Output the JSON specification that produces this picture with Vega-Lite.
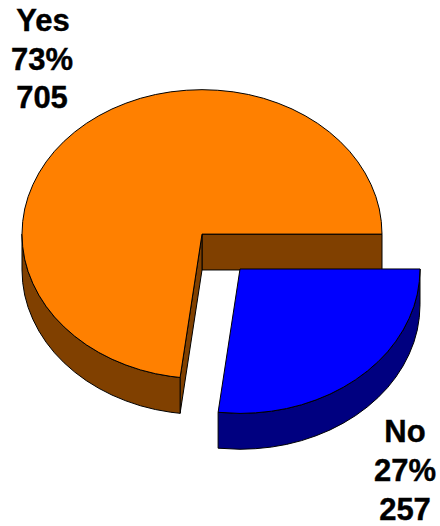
{"$schema":"https://vega.github.io/schema/vega-lite/v6.json","width":440,"height":526,"padding":0,"autosize":{"type":"fit","contains":"padding"},"background":"white","view":{"stroke":null},
"datasets":{
"yesInner":[{"x":202,"y":234,"y2":270},{"x":382,"y":234,"y2":270}],
"yesCut":[{"x":180.1,"y":377.9,"y2":413.9},{"x":202,"y":234,"y2":270}],
"yesSide":[{"x":22,"y":234,"y2":270},{"x":22.7,"y":246.6,"y2":282.6},{"x":24.7,"y":259.2,"y2":295.2},{"x":28.1,"y":271.5,"y2":307.5},{"x":32.9,"y":283.6,"y2":319.6},{"x":38.9,"y":295.3,"y2":331.3},{"x":46.1,"y":306.5,"y2":342.5},{"x":54.5,"y":317.2,"y2":353.2},{"x":64.1,"y":327.2,"y2":363.2},{"x":74.7,"y":336.5,"y2":372.5},{"x":86.3,"y":345.1,"y2":381.1},{"x":98.8,"y":352.8,"y2":388.8},{"x":112,"y":359.6,"y2":395.6},{"x":125.9,"y":365.4,"y2":401.4},{"x":140.4,"y":370.3,"y2":406.3},{"x":155.4,"y":374.1,"y2":410.1},{"x":170.7,"y":376.8,"y2":412.8},{"x":180.1,"y":377.9,"y2":413.9}],
"yesTop":[{"i":0,"x":180.1,"y":377.9},{"i":1,"x":170.7,"y":376.8},{"i":2,"x":155.4,"y":374.1},{"i":3,"x":140.4,"y":370.3},{"i":4,"x":125.9,"y":365.4},{"i":5,"x":112,"y":359.6},{"i":6,"x":98.8,"y":352.8},{"i":7,"x":86.3,"y":345.1},{"i":8,"x":74.7,"y":336.5},{"i":9,"x":64.1,"y":327.2},{"i":10,"x":54.5,"y":317.2},{"i":11,"x":46.1,"y":306.5},{"i":12,"x":38.9,"y":295.3},{"i":13,"x":32.9,"y":283.6},{"i":14,"x":28.1,"y":271.5},{"i":15,"x":24.7,"y":259.2},{"i":16,"x":22.7,"y":246.6},{"i":17,"x":22,"y":234},{"i":18,"x":22.7,"y":221.4},{"i":19,"x":24.7,"y":208.8},{"i":20,"x":28.1,"y":196.5},{"i":21,"x":32.9,"y":184.4},{"i":22,"x":38.9,"y":172.7},{"i":23,"x":46.1,"y":161.5},{"i":24,"x":54.5,"y":150.8},{"i":25,"x":64.1,"y":140.8},{"i":26,"x":74.7,"y":131.5},{"i":27,"x":86.3,"y":122.9},{"i":28,"x":98.8,"y":115.2},{"i":29,"x":112,"y":108.4},{"i":30,"x":125.9,"y":102.6},{"i":31,"x":140.4,"y":97.7},{"i":32,"x":155.4,"y":93.9},{"i":33,"x":170.7,"y":91.2},{"i":34,"x":186.3,"y":89.6},{"i":35,"x":202,"y":89},{"i":36,"x":217.7,"y":89.6},{"i":37,"x":233.3,"y":91.2},{"i":38,"x":248.6,"y":93.9},{"i":39,"x":263.6,"y":97.7},{"i":40,"x":278.1,"y":102.6},{"i":41,"x":292,"y":108.4},{"i":42,"x":305.2,"y":115.2},{"i":43,"x":317.7,"y":122.9},{"i":44,"x":329.3,"y":131.5},{"i":45,"x":339.9,"y":140.8},{"i":46,"x":349.5,"y":150.8},{"i":47,"x":357.9,"y":161.5},{"i":48,"x":365.1,"y":172.7},{"i":49,"x":371.1,"y":184.4},{"i":50,"x":375.9,"y":196.5},{"i":51,"x":379.3,"y":208.8},{"i":52,"x":381.3,"y":221.4},{"i":53,"x":382,"y":234},{"i":54,"x":202,"y":234},{"i":55,"x":180.1,"y":377.9}],
"noSide":[{"x":218.1,"y":412.9,"y2":448.9},{"x":240,"y":414,"y2":450},{"x":255.7,"y":413.4,"y2":449.4},{"x":271.3,"y":411.8,"y2":447.8},{"x":286.6,"y":409.1,"y2":445.1},{"x":301.6,"y":405.3,"y2":441.3},{"x":316.1,"y":400.4,"y2":436.4},{"x":330,"y":394.6,"y2":430.6},{"x":343.2,"y":387.8,"y2":423.8},{"x":355.7,"y":380.1,"y2":416.1},{"x":367.3,"y":371.5,"y2":407.5},{"x":377.9,"y":362.2,"y2":398.2},{"x":387.5,"y":352.2,"y2":388.2},{"x":395.9,"y":341.5,"y2":377.5},{"x":403.1,"y":330.3,"y2":366.3},{"x":409.1,"y":318.6,"y2":354.6},{"x":413.9,"y":306.5,"y2":342.5},{"x":417.3,"y":294.2,"y2":330.2},{"x":419.3,"y":281.6,"y2":317.6},{"x":420,"y":269,"y2":305}],
"noTop":[{"i":0,"x":240,"y":269},{"i":1,"x":420,"y":269},{"i":2,"x":419.3,"y":281.6},{"i":3,"x":417.3,"y":294.2},{"i":4,"x":413.9,"y":306.5},{"i":5,"x":409.1,"y":318.6},{"i":6,"x":403.1,"y":330.3},{"i":7,"x":395.9,"y":341.5},{"i":8,"x":387.5,"y":352.2},{"i":9,"x":377.9,"y":362.2},{"i":10,"x":367.3,"y":371.5},{"i":11,"x":355.7,"y":380.1},{"i":12,"x":343.2,"y":387.8},{"i":13,"x":330,"y":394.6},{"i":14,"x":316.1,"y":400.4},{"i":15,"x":301.6,"y":405.3},{"i":16,"x":286.6,"y":409.1},{"i":17,"x":271.3,"y":411.8},{"i":18,"x":255.7,"y":413.4},{"i":19,"x":240,"y":414},{"i":20,"x":218.1,"y":412.9},{"i":21,"x":240,"y":269}],
"labels":[{"t":"Yes","x":43,"y":30},{"t":"73%","x":42,"y":69},{"t":"705","x":42,"y":107},{"t":"No","x":405,"y":443},{"t":"27%","x":405,"y":482},{"t":"257","x":405,"y":521}]
},
"encoding":{"x":{"field":"x","type":"quantitative","scale":{"domain":[0,440],"nice":false,"zero":false},"axis":null},"y":{"field":"y","type":"quantitative","scale":{"domain":[525,-1],"nice":false,"zero":false},"axis":null}},
"layer":[
{"data":{"name":"yesInner"},"mark":{"type":"area","fill":"#804000","stroke":"black","strokeWidth":1},"encoding":{"y2":{"field":"y2"}}},
{"data":{"name":"yesCut"},"mark":{"type":"area","fill":"#804000","stroke":"black","strokeWidth":1},"encoding":{"y2":{"field":"y2"}}},
{"data":{"name":"yesSide"},"mark":{"type":"area","fill":"#804000","stroke":"black","strokeWidth":1},"encoding":{"y2":{"field":"y2"}}},
{"data":{"name":"yesTop"},"mark":{"type":"line","fill":"#FF8000","stroke":"black","strokeWidth":1},"encoding":{"order":{"field":"i","type":"quantitative"}}},
{"data":{"name":"noSide"},"mark":{"type":"area","fill":"#000080","stroke":"black","strokeWidth":1},"encoding":{"y2":{"field":"y2"}}},
{"data":{"name":"noTop"},"mark":{"type":"line","fill":"#0000FF","stroke":"black","strokeWidth":1},"encoding":{"order":{"field":"i","type":"quantitative"}}},
{"data":{"name":"labels"},"mark":{"type":"text","font":"Liberation Sans","fontWeight":"bold","fontSize":31,"align":"center","baseline":"alphabetic","color":"black","stroke":"black","strokeWidth":0.4},"encoding":{"text":{"field":"t","type":"nominal"}}}
]}
